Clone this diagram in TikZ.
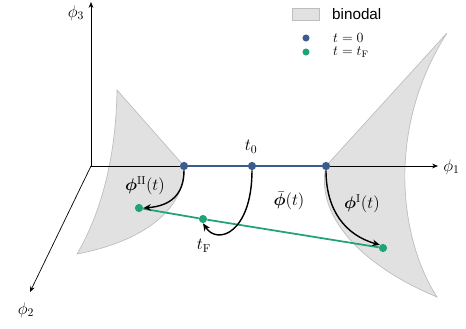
\documentclass[tikz,border=0pt]{standalone}
\usepackage{amsmath,bm}
\usepackage{fontspec}
\newfontfamily\legendfont{Liberation Sans}
\usetikzlibrary{arrows.meta}
\definecolor{tzero}{RGB}{59,93,142}
\definecolor{tfinal}{RGB}{33,163,122}
\definecolor{binfill}{RGB}{225,225,225}
\definecolor{binedge}{RGB}{190,190,190}

\begin{document}
\begin{tikzpicture}[
  x=0.03cm, y=-0.03cm,
  axis/.style={line width=0.6pt, black, -{Stealth[length=5pt,width=4pt]}},
  binodal/.style={fill=binfill, draw=binedge, line width=0.6pt},
  path0/.style={line width=1.5pt, tzero},
  pathF/.style={line width=1.5pt, tfinal},
  dot0/.style={circle, fill=tzero, inner sep=0pt, minimum size=7pt},
  dotF/.style={circle, fill=tfinal, inner sep=0pt, minimum size=7pt},
  traj/.style={line width=1.2pt, black, -{Stealth[length=6.5pt,width=5.5pt]}},
  lab/.style={font=\fontsize{14}{17}\selectfont, inner sep=1pt},
  leg/.style={font=\fontsize{12}{14}\selectfont, anchor=west, inner sep=0pt}]
\useasboundingbox (0,0) rectangle (466,328);

% binodal surfaces
\path[binodal] (117,90) -- (184,166)
  .. controls (186,205) and (150,240) .. (77,254)
  .. controls (100,215) and (116,160) .. cycle;
\path[binodal] (447,33) -- (326,166)
  .. controls (315,215) and (360,265) .. (437,297)
  .. controls (400,240) and (385,130) .. cycle;

% axes
\coordinate (o) at (91,166);
\coordinate (e1) at (438,166);
\coordinate (e2) at (30,292);
\coordinate (e3) at (91,2);
\draw[axis] (o) -- (e1);
\draw[axis] (o) -- (e2);
\draw[axis] (o) -- (e3);
\node[lab, anchor=west] at (442,167) {$\phi_1$};
\node[lab] at (26,310) {$\phi_2$};
\node[lab] at (76,13) {$\phi_3$};

% lines at t=0 and t=t_F
\node[dot0] (a0) at (184,166) {};
\node[dot0] (b0) at (252,166) {};
\node[dot0] (c0) at (326,166) {};
\node[dotF] (aF) at (139,208) {};
\node[dotF] (bF) at (203,219) {};
\node[dotF] (cF) at (383,248) {};
\draw[path0] (a0) -- (b0) -- (c0);
\draw[pathF] (aF) -- (bF) -- (cF);

% trajectories
\draw[traj] (a0.south) .. controls (184,195) and (170,206) .. (aF.east);
\draw[traj] (b0.south) .. controls (252,232) and (218,246) .. (bF.south);
\draw[traj] (c0.south) .. controls (326,210) and (345,235) .. (cF.north west);
\node[lab] at (251,147) {$t_0$};
\node[lab] at (145,186) {$\bm{\phi}^{\mathrm{II}}(t)$};
\node[lab] at (289,201) {$\bar{\bm{\phi}}(t)$};
\node[lab] at (362,204) {$\bm{\phi}^{\mathrm{I}}(t)$};
\node[lab] at (204,246) {$t_{\mathrm{F}}$};

% legend
\path[fill=binfill, draw=binedge, line width=0.5pt] (292,8) rectangle (319,20);
\node[leg, font=\legendfont\fontsize{13}{15}\selectfont] at (332,14) {binodal};
\node[dot0, minimum size=6pt] (l0) at (306,38) {};
\node[dotF, minimum size=6pt] (lF) at (306,52) {};
\node[leg] at (333,38) {$t=0$};
\node[leg] at (333,52) {$t=t_{\mathrm{F}}$};
\end{tikzpicture}
\end{document}
